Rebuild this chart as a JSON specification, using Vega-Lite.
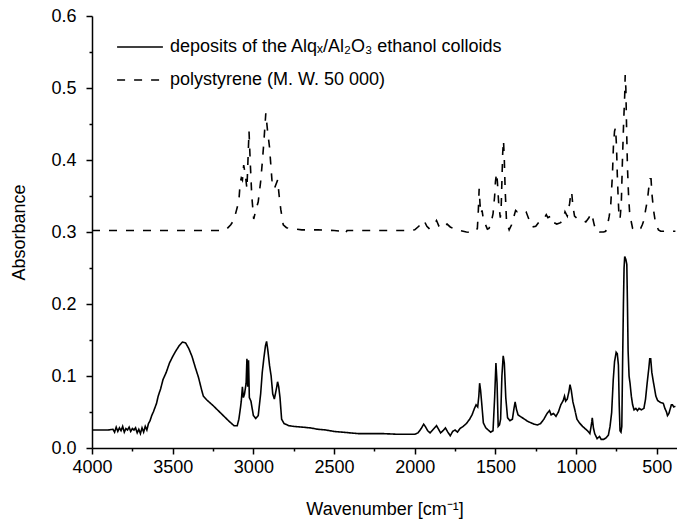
{
  "$schema": "https://vega.github.io/schema/vega-lite/v6.json",
  "width": 585,
  "height": 432,
  "autosize": {"type": "none"},
  "padding": {"left": 92, "top": 16, "right": 0, "bottom": 83},
  "background": "white",
  "config": {"view": {"stroke": null}, "font": "Liberation Sans"},
  "data": {"values": [
{"s":"A","w":4000,"a":0.025},{"s":"A","w":3950,"a":0.025},{"s":"A","w":3900,"a":0.025},{"s":"A","w":3870,"a":0.026},{"s":"A","w":3860,"a":0.022},{"s":"A","w":3850,"a":0.029},{"s":"A","w":3840,"a":0.023},{"s":"A","w":3830,"a":0.028},{"s":"A","w":3820,"a":0.024},{"s":"A","w":3810,"a":0.030},{"s":"A","w":3800,"a":0.022},{"s":"A","w":3790,"a":0.027},{"s":"A","w":3780,"a":0.025},{"s":"A","w":3770,"a":0.029},{"s":"A","w":3760,"a":0.023},{"s":"A","w":3750,"a":0.027},{"s":"A","w":3740,"a":0.025},{"s":"A","w":3730,"a":0.028},{"s":"A","w":3720,"a":0.021},{"s":"A","w":3710,"a":0.026},{"s":"A","w":3700,"a":0.020},{"s":"A","w":3690,"a":0.028},{"s":"A","w":3680,"a":0.022},{"s":"A","w":3670,"a":0.030},{"s":"A","w":3660,"a":0.025},{"s":"A","w":3650,"a":0.034},{"s":"A","w":3640,"a":0.038},{"s":"A","w":3630,"a":0.045},{"s":"A","w":3620,"a":0.050},{"s":"A","w":3600,"a":0.062},{"s":"A","w":3590,"a":0.072},{"s":"A","w":3575,"a":0.082},{"s":"A","w":3560,"a":0.095},{"s":"A","w":3540,"a":0.105},{"s":"A","w":3520,"a":0.118},{"s":"A","w":3500,"a":0.127},{"s":"A","w":3480,"a":0.135},{"s":"A","w":3460,"a":0.142},{"s":"A","w":3440,"a":0.147},{"s":"A","w":3420,"a":0.146},{"s":"A","w":3400,"a":0.138},{"s":"A","w":3380,"a":0.127},{"s":"A","w":3360,"a":0.112},{"s":"A","w":3340,"a":0.098},{"s":"A","w":3320,"a":0.080},{"s":"A","w":3310,"a":0.072},{"s":"A","w":3290,"a":0.067},{"s":"A","w":3250,"a":0.059},{"s":"A","w":3200,"a":0.048},{"s":"A","w":3150,"a":0.037},{"s":"A","w":3120,"a":0.031},{"s":"A","w":3100,"a":0.031},{"s":"A","w":3090,"a":0.040},{"s":"A","w":3080,"a":0.056},{"s":"A","w":3075,"a":0.065},{"s":"A","w":3068,"a":0.085},{"s":"A","w":3062,"a":0.070},{"s":"A","w":3055,"a":0.075},{"s":"A","w":3045,"a":0.090},{"s":"A","w":3040,"a":0.124},{"s":"A","w":3035,"a":0.085},{"s":"A","w":3030,"a":0.122},{"s":"A","w":3025,"a":0.070},{"s":"A","w":3015,"a":0.065},{"s":"A","w":3000,"a":0.045},{"s":"A","w":2985,"a":0.041},{"s":"A","w":2970,"a":0.045},{"s":"A","w":2955,"a":0.075},{"s":"A","w":2945,"a":0.105},{"s":"A","w":2935,"a":0.125},{"s":"A","w":2925,"a":0.142},{"s":"A","w":2918,"a":0.148},{"s":"A","w":2910,"a":0.135},{"s":"A","w":2900,"a":0.115},{"s":"A","w":2890,"a":0.100},{"s":"A","w":2880,"a":0.075},{"s":"A","w":2870,"a":0.068},{"s":"A","w":2855,"a":0.085},{"s":"A","w":2850,"a":0.092},{"s":"A","w":2843,"a":0.085},{"s":"A","w":2835,"a":0.070},{"s":"A","w":2825,"a":0.040},{"s":"A","w":2810,"a":0.034},{"s":"A","w":2780,"a":0.031},{"s":"A","w":2750,"a":0.030},{"s":"A","w":2700,"a":0.029},{"s":"A","w":2650,"a":0.028},{"s":"A","w":2600,"a":0.026},{"s":"A","w":2550,"a":0.025},{"s":"A","w":2500,"a":0.023},{"s":"A","w":2450,"a":0.022},{"s":"A","w":2400,"a":0.021},{"s":"A","w":2350,"a":0.020},{"s":"A","w":2300,"a":0.020},{"s":"A","w":2200,"a":0.020},{"s":"A","w":2100,"a":0.019},{"s":"A","w":2050,"a":0.019},{"s":"A","w":2000,"a":0.019},{"s":"A","w":1980,"a":0.021},{"s":"A","w":1960,"a":0.027},{"s":"A","w":1945,"a":0.033},{"s":"A","w":1935,"a":0.030},{"s":"A","w":1920,"a":0.024},{"s":"A","w":1905,"a":0.021},{"s":"A","w":1885,"a":0.026},{"s":"A","w":1865,"a":0.031},{"s":"A","w":1850,"a":0.025},{"s":"A","w":1840,"a":0.021},{"s":"A","w":1825,"a":0.024},{"s":"A","w":1810,"a":0.028},{"s":"A","w":1795,"a":0.022},{"s":"A","w":1780,"a":0.017},{"s":"A","w":1765,"a":0.023},{"s":"A","w":1750,"a":0.025},{"s":"A","w":1735,"a":0.022},{"s":"A","w":1720,"a":0.027},{"s":"A","w":1700,"a":0.030},{"s":"A","w":1680,"a":0.034},{"s":"A","w":1660,"a":0.040},{"s":"A","w":1645,"a":0.046},{"s":"A","w":1630,"a":0.055},{"s":"A","w":1620,"a":0.060},{"s":"A","w":1610,"a":0.057},{"s":"A","w":1603,"a":0.072},{"s":"A","w":1598,"a":0.090},{"s":"A","w":1592,"a":0.080},{"s":"A","w":1585,"a":0.062},{"s":"A","w":1575,"a":0.035},{"s":"A","w":1560,"a":0.028},{"s":"A","w":1545,"a":0.025},{"s":"A","w":1530,"a":0.022},{"s":"A","w":1515,"a":0.024},{"s":"A","w":1505,"a":0.070},{"s":"A","w":1497,"a":0.118},{"s":"A","w":1490,"a":0.090},{"s":"A","w":1483,"a":0.030},{"s":"A","w":1475,"a":0.032},{"s":"A","w":1468,"a":0.040},{"s":"A","w":1460,"a":0.100},{"s":"A","w":1452,"a":0.128},{"s":"A","w":1445,"a":0.118},{"s":"A","w":1436,"a":0.070},{"s":"A","w":1425,"a":0.042},{"s":"A","w":1410,"a":0.038},{"s":"A","w":1395,"a":0.040},{"s":"A","w":1385,"a":0.055},{"s":"A","w":1378,"a":0.064},{"s":"A","w":1370,"a":0.054},{"s":"A","w":1360,"a":0.046},{"s":"A","w":1340,"a":0.043},{"s":"A","w":1320,"a":0.040},{"s":"A","w":1300,"a":0.037},{"s":"A","w":1280,"a":0.035},{"s":"A","w":1260,"a":0.033},{"s":"A","w":1240,"a":0.032},{"s":"A","w":1220,"a":0.034},{"s":"A","w":1200,"a":0.040},{"s":"A","w":1180,"a":0.048},{"s":"A","w":1165,"a":0.052},{"s":"A","w":1155,"a":0.046},{"s":"A","w":1140,"a":0.048},{"s":"A","w":1125,"a":0.044},{"s":"A","w":1110,"a":0.050},{"s":"A","w":1095,"a":0.060},{"s":"A","w":1080,"a":0.066},{"s":"A","w":1072,"a":0.072},{"s":"A","w":1065,"a":0.065},{"s":"A","w":1055,"a":0.068},{"s":"A","w":1045,"a":0.078},{"s":"A","w":1038,"a":0.088},{"s":"A","w":1030,"a":0.080},{"s":"A","w":1020,"a":0.064},{"s":"A","w":1010,"a":0.055},{"s":"A","w":995,"a":0.040},{"s":"A","w":980,"a":0.035},{"s":"A","w":960,"a":0.030},{"s":"A","w":945,"a":0.027},{"s":"A","w":930,"a":0.024},{"s":"A","w":915,"a":0.020},{"s":"A","w":905,"a":0.033},{"s":"A","w":900,"a":0.042},{"s":"A","w":893,"a":0.028},{"s":"A","w":885,"a":0.020},{"s":"A","w":870,"a":0.013},{"s":"A","w":855,"a":0.016},{"s":"A","w":845,"a":0.012},{"s":"A","w":830,"a":0.012},{"s":"A","w":815,"a":0.014},{"s":"A","w":800,"a":0.018},{"s":"A","w":790,"a":0.030},{"s":"A","w":780,"a":0.049},{"s":"A","w":770,"a":0.095},{"s":"A","w":762,"a":0.120},{"s":"A","w":752,"a":0.133},{"s":"A","w":745,"a":0.131},{"s":"A","w":738,"a":0.115},{"s":"A","w":733,"a":0.060},{"s":"A","w":728,"a":0.024},{"s":"A","w":722,"a":0.022},{"s":"A","w":717,"a":0.030},{"s":"A","w":712,"a":0.120},{"s":"A","w":707,"a":0.200},{"s":"A","w":703,"a":0.250},{"s":"A","w":699,"a":0.266},{"s":"A","w":692,"a":0.262},{"s":"A","w":686,"a":0.255},{"s":"A","w":682,"a":0.200},{"s":"A","w":678,"a":0.135},{"s":"A","w":672,"a":0.100},{"s":"A","w":666,"a":0.090},{"s":"A","w":658,"a":0.072},{"s":"A","w":650,"a":0.060},{"s":"A","w":641,"a":0.053},{"s":"A","w":630,"a":0.055},{"s":"A","w":620,"a":0.052},{"s":"A","w":610,"a":0.055},{"s":"A","w":595,"a":0.053},{"s":"A","w":580,"a":0.055},{"s":"A","w":570,"a":0.068},{"s":"A","w":560,"a":0.090},{"s":"A","w":550,"a":0.110},{"s":"A","w":544,"a":0.124},{"s":"A","w":538,"a":0.124},{"s":"A","w":531,"a":0.105},{"s":"A","w":520,"a":0.090},{"s":"A","w":506,"a":0.072},{"s":"A","w":495,"a":0.066},{"s":"A","w":476,"a":0.063},{"s":"A","w":460,"a":0.062},{"s":"A","w":450,"a":0.055},{"s":"A","w":440,"a":0.050},{"s":"A","w":434,"a":0.045},{"s":"A","w":425,"a":0.048},{"s":"A","w":410,"a":0.060},{"s":"A","w":403,"a":0.060},{"s":"A","w":395,"a":0.057},{"s":"A","w":385,"a":0.058},
{"s":"B","w":4000,"a":0.302},{"s":"B","w":3800,"a":0.302},{"s":"B","w":3600,"a":0.302},{"s":"B","w":3400,"a":0.302},{"s":"B","w":3200,"a":0.302},{"s":"B","w":3170,"a":0.303},{"s":"B","w":3140,"a":0.310},{"s":"B","w":3120,"a":0.317},{"s":"B","w":3105,"a":0.330},{"s":"B","w":3090,"a":0.343},{"s":"B","w":3082,"a":0.368},{"s":"B","w":3075,"a":0.375},{"s":"B","w":3068,"a":0.372},{"s":"B","w":3060,"a":0.393},{"s":"B","w":3050,"a":0.380},{"s":"B","w":3040,"a":0.360},{"s":"B","w":3027,"a":0.440},{"s":"B","w":3020,"a":0.400},{"s":"B","w":3010,"a":0.350},{"s":"B","w":2998,"a":0.318},{"s":"B","w":2985,"a":0.330},{"s":"B","w":2970,"a":0.342},{"s":"B","w":2955,"a":0.370},{"s":"B","w":2945,"a":0.396},{"s":"B","w":2935,"a":0.425},{"s":"B","w":2923,"a":0.465},{"s":"B","w":2912,"a":0.440},{"s":"B","w":2900,"a":0.418},{"s":"B","w":2885,"a":0.372},{"s":"B","w":2870,"a":0.360},{"s":"B","w":2862,"a":0.365},{"s":"B","w":2850,"a":0.372},{"s":"B","w":2840,"a":0.350},{"s":"B","w":2830,"a":0.331},{"s":"B","w":2815,"a":0.310},{"s":"B","w":2795,"a":0.306},{"s":"B","w":2770,"a":0.305},{"s":"B","w":2700,"a":0.303},{"s":"B","w":2600,"a":0.303},{"s":"B","w":2500,"a":0.302},{"s":"B","w":2440,"a":0.301},{"s":"B","w":2430,"a":0.298},{"s":"B","w":2420,"a":0.302},{"s":"B","w":2300,"a":0.302},{"s":"B","w":2100,"a":0.302},{"s":"B","w":2050,"a":0.302},{"s":"B","w":2000,"a":0.303},{"s":"B","w":1975,"a":0.308},{"s":"B","w":1960,"a":0.312},{"s":"B","w":1943,"a":0.316},{"s":"B","w":1925,"a":0.308},{"s":"B","w":1912,"a":0.305},{"s":"B","w":1880,"a":0.310},{"s":"B","w":1865,"a":0.316},{"s":"B","w":1850,"a":0.308},{"s":"B","w":1840,"a":0.305},{"s":"B","w":1820,"a":0.308},{"s":"B","w":1800,"a":0.311},{"s":"B","w":1780,"a":0.307},{"s":"B","w":1745,"a":0.303},{"s":"B","w":1720,"a":0.302},{"s":"B","w":1680,"a":0.300},{"s":"B","w":1643,"a":0.299},{"s":"B","w":1625,"a":0.301},{"s":"B","w":1612,"a":0.305},{"s":"B","w":1606,"a":0.330},{"s":"B","w":1601,"a":0.360},{"s":"B","w":1596,"a":0.340},{"s":"B","w":1590,"a":0.325},{"s":"B","w":1583,"a":0.330},{"s":"B","w":1575,"a":0.318},{"s":"B","w":1565,"a":0.312},{"s":"B","w":1550,"a":0.304},{"s":"B","w":1540,"a":0.305},{"s":"B","w":1530,"a":0.310},{"s":"B","w":1515,"a":0.325},{"s":"B","w":1505,"a":0.350},{"s":"B","w":1500,"a":0.370},{"s":"B","w":1493,"a":0.382},{"s":"B","w":1488,"a":0.370},{"s":"B","w":1480,"a":0.340},{"s":"B","w":1470,"a":0.320},{"s":"B","w":1465,"a":0.330},{"s":"B","w":1460,"a":0.370},{"s":"B","w":1455,"a":0.410},{"s":"B","w":1450,"a":0.427},{"s":"B","w":1445,"a":0.400},{"s":"B","w":1440,"a":0.360},{"s":"B","w":1432,"a":0.318},{"s":"B","w":1425,"a":0.310},{"s":"B","w":1415,"a":0.303},{"s":"B","w":1400,"a":0.310},{"s":"B","w":1385,"a":0.322},{"s":"B","w":1375,"a":0.330},{"s":"B","w":1365,"a":0.328},{"s":"B","w":1345,"a":0.330},{"s":"B","w":1330,"a":0.329},{"s":"B","w":1310,"a":0.328},{"s":"B","w":1290,"a":0.316},{"s":"B","w":1272,"a":0.307},{"s":"B","w":1250,"a":0.308},{"s":"B","w":1230,"a":0.314},{"s":"B","w":1200,"a":0.318},{"s":"B","w":1185,"a":0.324},{"s":"B","w":1175,"a":0.320},{"s":"B","w":1155,"a":0.322},{"s":"B","w":1147,"a":0.314},{"s":"B","w":1120,"a":0.311},{"s":"B","w":1096,"a":0.313},{"s":"B","w":1080,"a":0.318},{"s":"B","w":1069,"a":0.328},{"s":"B","w":1055,"a":0.322},{"s":"B","w":1040,"a":0.340},{"s":"B","w":1033,"a":0.354},{"s":"B","w":1028,"a":0.356},{"s":"B","w":1020,"a":0.336},{"s":"B","w":1010,"a":0.322},{"s":"B","w":990,"a":0.318},{"s":"B","w":970,"a":0.317},{"s":"B","w":955,"a":0.316},{"s":"B","w":940,"a":0.314},{"s":"B","w":920,"a":0.320},{"s":"B","w":909,"a":0.326},{"s":"B","w":900,"a":0.322},{"s":"B","w":890,"a":0.312},{"s":"B","w":880,"a":0.303},{"s":"B","w":868,"a":0.299},{"s":"B","w":850,"a":0.300},{"s":"B","w":830,"a":0.300},{"s":"B","w":817,"a":0.301},{"s":"B","w":805,"a":0.310},{"s":"B","w":795,"a":0.322},{"s":"B","w":786,"a":0.336},{"s":"B","w":775,"a":0.380},{"s":"B","w":769,"a":0.419},{"s":"B","w":762,"a":0.440},{"s":"B","w":756,"a":0.445},{"s":"B","w":750,"a":0.420},{"s":"B","w":745,"a":0.380},{"s":"B","w":740,"a":0.350},{"s":"B","w":735,"a":0.325},{"s":"B","w":728,"a":0.318},{"s":"B","w":720,"a":0.340},{"s":"B","w":713,"a":0.400},{"s":"B","w":706,"a":0.450},{"s":"B","w":699,"a":0.490},{"s":"B","w":696,"a":0.518},{"s":"B","w":692,"a":0.500},{"s":"B","w":687,"a":0.440},{"s":"B","w":682,"a":0.390},{"s":"B","w":675,"a":0.350},{"s":"B","w":668,"a":0.325},{"s":"B","w":662,"a":0.318},{"s":"B","w":650,"a":0.305},{"s":"B","w":641,"a":0.302},{"s":"B","w":625,"a":0.302},{"s":"B","w":600,"a":0.305},{"s":"B","w":590,"a":0.310},{"s":"B","w":579,"a":0.317},{"s":"B","w":570,"a":0.330},{"s":"B","w":558,"a":0.345},{"s":"B","w":548,"a":0.365},{"s":"B","w":542,"a":0.374},{"s":"B","w":536,"a":0.374},{"s":"B","w":530,"a":0.352},{"s":"B","w":520,"a":0.330},{"s":"B","w":510,"a":0.315},{"s":"B","w":500,"a":0.308},{"s":"B","w":490,"a":0.303},{"s":"B","w":476,"a":0.301},{"s":"B","w":450,"a":0.301},{"s":"B","w":414,"a":0.301},{"s":"B","w":385,"a":0.301}
  ]},
  "mark": {"type": "line", "color": "black", "strokeWidth": 1.6, "clip": true},
  "encoding": {
    "x": {
      "field": "w", "type": "quantitative",
      "scale": {"domain": [375, 4000], "reverse": true, "nice": false, "zero": false},
      "axis": {
        "values": [4000,3750,3500,3250,3000,2750,2500,2250,2000,1750,1500,1250,1000,750,500],
        "format": "d",
        "labelExpr": "datum.value % 500 === 0 ? datum.label : ''",
        "tickSize": {"condition": {"test": "datum.value % 500 === 0", "value": 6}, "value": 3},
        "grid": false,
        "domainColor": "black", "domainWidth": 1.5,
        "tickColor": "black", "tickWidth": 1.5,
        "labelFontSize": 18, "labelColor": "black", "labelPadding": 4, "labelFlush": false, "labelOverlap": false,
        "title": "Wavenumber [cm⁻¹]", "titleFontSize": 18, "titleFontWeight": "normal", "titleColor": "black", "titlePadding": 24
      }
    },
    "y": {
      "field": "a", "type": "quantitative",
      "scale": {"domain": [0, 0.6], "nice": false},
      "axis": {
        "values": [0,0.05,0.1,0.15,0.2,0.25,0.3,0.35,0.4,0.45,0.5,0.55,0.6],
        "labelExpr": "round(datum.value*100) % 10 === 0 ? format(datum.value, '.1f') : ''",
        "tickSize": {"condition": {"test": "round(datum.value*100) % 10 === 0", "value": 6}, "value": 3},
        "grid": false,
        "domainColor": "black", "domainWidth": 1.5,
        "tickColor": "black", "tickWidth": 1.5,
        "labelFontSize": 18, "labelColor": "black", "labelPadding": 10, "labelOverlap": false,
        "title": "Absorbance", "titleFontSize": 18, "titleFontWeight": "normal", "titleColor": "black", "titlePadding": 22
      }
    },
    "strokeDash": {
      "field": "s", "type": "nominal",
      "scale": {"domain": ["A", "B"], "range": [[1, 0], [8, 9]]},
      "legend": {
        "orient": "none", "legendX": 24, "legendY": 7,
        "title": null,
        "labelExpr": "datum.value === 'A' ? 'deposits of the Alqₓ/Al₂O₃ ethanol colloids' : 'polystyrene (M. W. 50 000)'",
        "symbolType": "stroke", "symbolSize": 2100, "symbolStrokeWidth": 1.6, "symbolStrokeColor": "black",
        "labelFontSize": 18, "labelColor": "black", "labelOffset": 6, "rowPadding": -24, "labelLimit": 600
      }
    }
  }
}
